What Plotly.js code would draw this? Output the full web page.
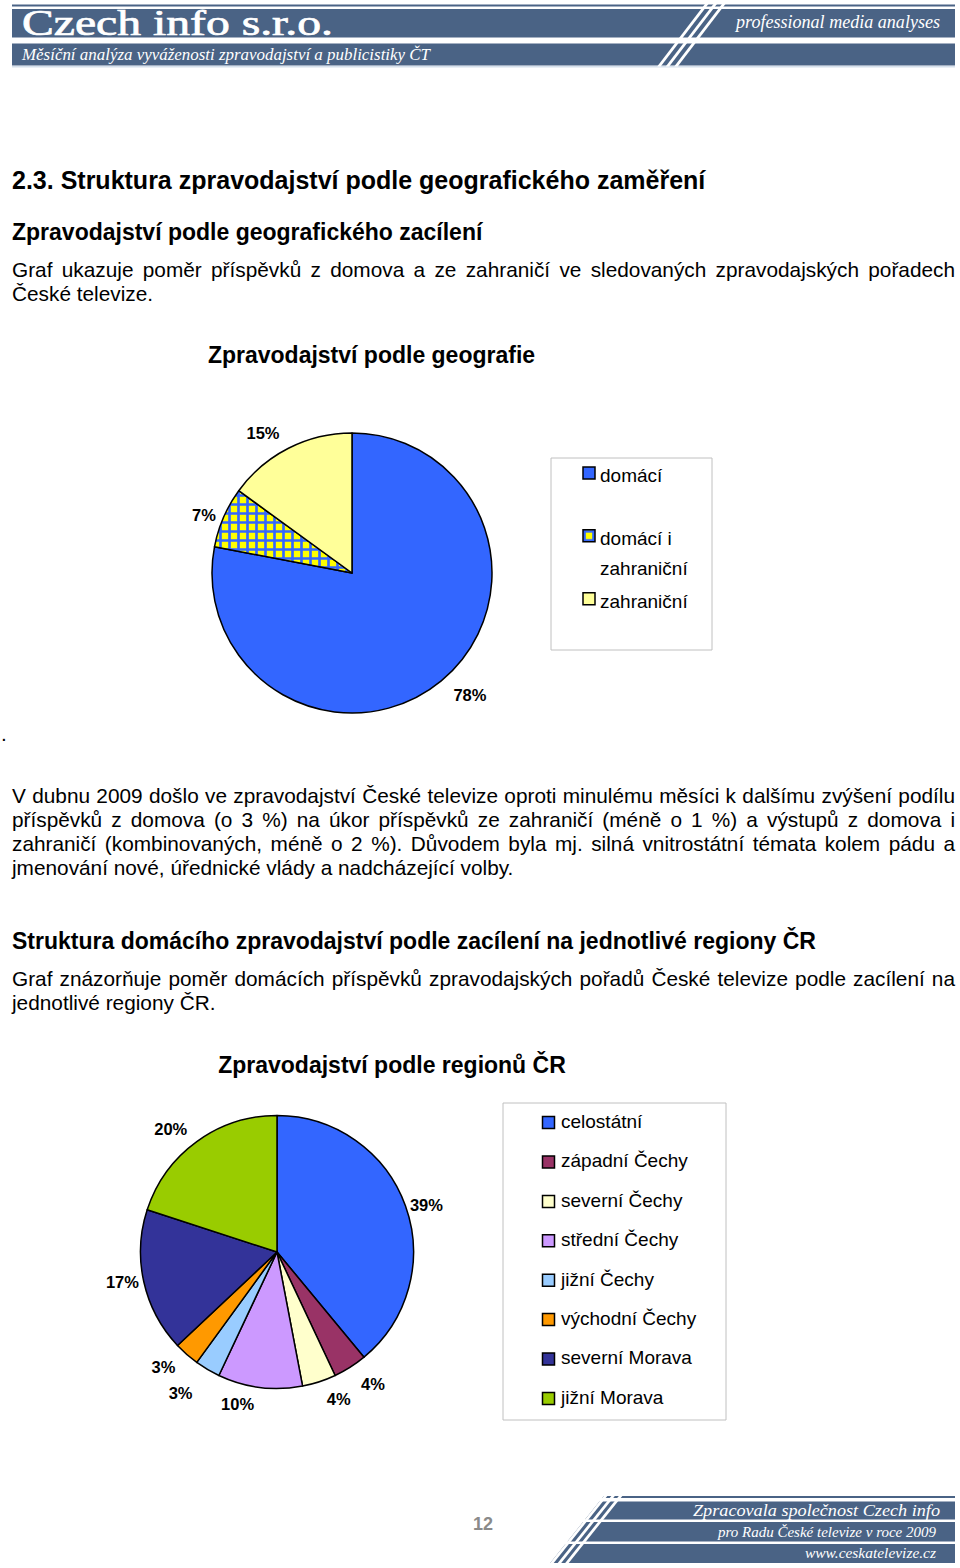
<!DOCTYPE html>
<html>
<head>
<meta charset="utf-8">
<script src="https://cdn.plot.ly/plotly-3.0.1.min.js"></script>
<style>
  html, body { margin:0; padding:0; background:#fff; }
  #page { position:relative; width:960px; height:1568px; overflow:hidden; background:#fff;
          font-family:"Liberation Sans", Arial, Helvetica, sans-serif; color:#000; }
  .abs { position:absolute; }
  .h1 { left:12px; font-size:25px; line-height:30px; font-weight:bold; white-space:nowrap; }
  .h2 { left:12px; font-size:23px; line-height:28px; font-weight:bold; white-space:nowrap; }
  .p  { left:12px; width:943px; font-size:20.8px; line-height:24px; white-space:nowrap; }
  .j  { text-align:justify; text-align-last:justify; white-space:normal; }
  .chart { position:absolute; left:0; width:960px; }
  #chart1 .legend .legendpoints { transform: translateX(9px); }
  #chart2 .legend .legendpoints { transform: translateX(7.5px); }
</style>
</head>
<body>
<div id="page">
  <svg class="abs" style="left:0;top:0" width="960" height="72">
    <rect x="12" y="4.5" width="943" height="2" fill="#4a6385"/>
    <rect x="12" y="9" width="943" height="28.5" fill="#4a6385"/>
    <rect x="12" y="43.5" width="943" height="22" fill="#4a6385"/>
    <rect x="12" y="66" width="943" height="1.5" fill="#d5e0ec"/>
    <g fill="#fff">
      <polygon points="706.5,2 710,2 660.7,66.5 657.2,66.5"/>
      <polygon points="715,2 718.5,2 669.2,66.5 665.7,66.5"/>
      <polygon points="723.5,2 727,2 677.7,66.5 674.2,66.5"/>
    </g>
    <text x="22" y="35" font-family="Liberation Serif, Times New Roman, serif" font-size="35" fill="#fff" stroke="#fff" stroke-width="0.7" textLength="311" lengthAdjust="spacingAndGlyphs">Czech info s.r.o.</text>
    <text x="736" y="28" font-family="Liberation Serif, Times New Roman, serif" font-style="italic" font-size="18.5" fill="#fff" textLength="204" lengthAdjust="spacingAndGlyphs">professional media analyses</text>
    <text x="22" y="60" font-family="Liberation Serif, Times New Roman, serif" font-style="italic" font-size="16" fill="#fff" textLength="408" lengthAdjust="spacingAndGlyphs">Měsíční analýza vyváženosti zpravodajství a publicistiky ČT</text>
  </svg>

  <div class="abs h1" style="top:165px">2.3. Struktura zpravodajství podle geografického zaměření</div>
  <div class="abs h2" style="top:218px">Zpravodajství podle geografického zacílení</div>
  <div class="abs p j" style="top:257.5px">Graf ukazuje poměr příspěvků z domova a ze zahraničí ve sledovaných zpravodajských pořadech</div>
  <div class="abs p" style="top:281.5px">České televize.</div>

  <div id="chart1" class="chart" style="top:320px;height:420px"></div>

  <div class="abs p" style="top:722px;left:1px">.</div>
  <div class="abs p j" style="top:783.5px">V dubnu 2009 došlo ve zpravodajství České televize oproti minulému měsíci k dalšímu zvýšení podílu</div>
  <div class="abs p j" style="top:807.5px">příspěvků z&nbsp;domova (o 3 %) na úkor příspěvků ze zahraničí (méně o 1 %) a výstupů z&nbsp;domova i</div>
  <div class="abs p j" style="top:831.5px">zahraničí (kombinovaných, méně o 2 %). Důvodem byla mj. silná vnitrostátní témata kolem pádu a</div>
  <div class="abs p" style="top:855.5px">jmenování nové, úřednické vlády a nadcházející volby.</div>

  <div class="abs h2" style="top:927px">Struktura domácího zpravodajství podle zacílení na jednotlivé regiony ČR</div>
  <div class="abs p j" style="top:966.5px">Graf znázorňuje poměr domácích příspěvků zpravodajských pořadů České televize podle zacílení na</div>
  <div class="abs p" style="top:990.5px">jednotlivé regiony ČR.</div>

  <div id="chart2" class="chart" style="top:1030px;height:410px"></div>

  <div class="abs" style="left:473px;top:1513px;font-size:18px;line-height:22px;font-weight:bold;color:#8a8a8a">12</div>

  <svg class="abs" style="left:0;top:1488px" width="960" height="80" id="footer"></svg>
</div>

<script>
// ---------- data ----------
const geoCategories = ['domácí', 'domácí i zahraniční', 'zahraniční'];
const geoLegendText = ['domácí', 'domácí i<br>zahraniční', 'zahraniční'];
const geoValues = [78, 7, 15];
const geoColors = ['#3366ff', '#ffff00', '#ffff99'];
const geoPatternShapes = ['', '+', ''];

const regionCategories = ['celostátní', 'západní Čechy', 'severní Čechy', 'střední Čechy',
                          'jižní Čechy', 'východní Čechy', 'severní Morava', 'jižní Morava'];
const regionValues = [39, 4, 4, 10, 3, 3, 17, 20];
const regionColors = ['#3366ff', '#993366', '#ffffcc', '#cc99ff', '#99ccff', '#ff9900', '#333399', '#99cc00'];

const chart1Title = 'Zpravodajství podle geografie';
const chart2Title = 'Zpravodajství podle regionů ČR';

// ---------- footer decoration ----------
(function () {
  const svg = document.getElementById('footer');
  const NS = 'http://www.w3.org/2000/svg';
  const oy = 1488;
  const E = y => 622 - 0.8 * (y - 1502);   // slanted left edge of the bands
  function poly(pts, fill) {
    const p = document.createElementNS(NS, 'polygon');
    p.setAttribute('points', pts.map(q => q[0] + ',' + (q[1] - oy)).join(' '));
    p.setAttribute('fill', fill);
    svg.appendChild(p);
  }
  const col = '#4a6385';
  const bands = [[1501.5, 1519.5], [1522, 1541.5], [1544, 1563]];
  bands.forEach(b => {
    poly([[E(b[0]) - 23, b[0]], [955, b[0]], [955, b[1]], [E(b[1]) - 23, b[1]]], col);
  });
  poly([[E(1496) - 23, 1496], [955, 1496], [955, 1498], [E(1498) - 23, 1498]], col);
  [[-4.5, -8], [-12, -15.5], [-19.5, -23]].forEach(g => {
    poly([[E(1490) + g[1], 1490], [E(1490) + g[0], 1490],
          [E(1566) + g[0], 1566], [E(1566) + g[1], 1566]], '#fff');
  });
  function txt(s, x, y, size, len) {
    const t = document.createElementNS(NS, 'text');
    t.setAttribute('x', x); t.setAttribute('y', y - oy);
    t.setAttribute('font-family', 'Liberation Serif, Times New Roman, serif');
    t.setAttribute('font-style', 'italic');
    t.setAttribute('font-size', size);
    t.setAttribute('fill', '#fff');
    t.setAttribute('textLength', len);
    t.setAttribute('lengthAdjust', 'spacingAndGlyphs');
    t.textContent = s;
    svg.appendChild(t);
  }
  txt('Zpracovala společnost Czech info', 693, 1515.5, 16, 247);
  txt('pro Radu České televize v roce 2009', 718, 1536.5, 15.5, 218);
  txt('www.ceskatelevize.cz', 805, 1558, 14.5, 131);
})();

// ---------- charts ----------
const FONT = '"Liberation Sans", Arial, Helvetica, sans-serif';
const span = s => '<span style="font-size:19px">' + s + '</span>';
const LABEL_FONT = { family: FONT, size: 16.5, color: '#000', weight: 'bold' };

// The visible pie, plus one transparent twin per slice that only carries that
// slice's outside percentage label, pushed a little away from the rim.
function pieTraces(opts) {
  const { W, H, cx, cy, r, labels, names, values, marker, labelOffsetPx } = opts;
  const dom = rr => ({ x: [(cx - rr) / W, (cx + rr) / W], y: [(H - cy - rr) / H, (H - cy + rr) / H] });
  const main = {
    type: 'pie', labels: labels, values: values, sort: false,
    direction: 'clockwise', rotation: 0, marker: marker,
    textinfo: 'none', domain: dom(r), hoverinfo: 'none'
  };
  const textTraces = values.map((_, k) => {
    const pull = labelOffsetPx[k] / r;
    return {
      type: 'pie', labels: names.map(n => n + ' '), values: values, sort: false,
      direction: 'clockwise', rotation: 0, showlegend: false, pull: pull,
      marker: { colors: values.map(() => 'rgba(0,0,0,0)'), line: { width: 0 } },
      texttemplate: '%{value}%',
      textposition: values.map((__, i) => (i === k ? 'outside' : 'none')),
      outsidetextfont: LABEL_FONT,
      domain: dom(r * (1 + pull)), hoverinfo: 'none'
    };
  });
  return [main].concat(textTraces);
}

// chart 1
(function () {
  const W = 960, H = 420, top = 320;
  const legendLabels = geoLegendText.map(s => s.indexOf('<br>') >= 0
      ? s.split('<br>').map(span).join('<br>')
      : span(s) + '<br>\u00a0');
  const traces = pieTraces({
    W: W, H: H, cx: 352, cy: 573 - top, r: 140,
    labels: legendLabels, names: geoCategories, values: geoValues,
    marker: {
      colors: geoColors,
      line: { color: '#000', width: 1.5 },
      pattern: {
        shape: geoPatternShapes,
        fgcolor: geoColors.map((c, i) => geoPatternShapes[i] ? '#3366ff' : c),
        bgcolor: geoColors,
        size: 9, solidity: 0.5, fillmode: 'replace'
      }
    },
    labelOffsetPx: [12, 3, 9]
  });
  const layout = {
    width: W, height: H,
    margin: { l: 0, r: 0, t: 0, b: 0 },
    paper_bgcolor: 'rgba(0,0,0,0)',
    title: { text: chart1Title, x: 371.5 / W, xanchor: 'center', y: 1 - 35 / H, yanchor: 'middle',
             font: { family: FONT, size: 23, color: '#000', weight: 'bold' } },
    showlegend: true,
    legend: { x: 560 / W, xanchor: 'left', y: 1 - 131.6 / H, yanchor: 'top',
              font: { family: FONT, size: 23, color: '#000' }, valign: 'top',
              bgcolor: 'rgba(0,0,0,0)', borderwidth: 0, traceorder: 'normal' },
    shapes: [{ type: 'rect', xref: 'paper', yref: 'paper', layer: 'below',
               x0: 551 / W, x1: 712 / W, y0: 1 - 330 / H, y1: 1 - 138 / H,
               line: { color: '#c0c0c0', width: 1 }, fillcolor: 'rgba(0,0,0,0)' }]
  };
  Plotly.newPlot('chart1', traces, layout, { staticPlot: true, displayModeBar: false });
})();

// chart 2
(function () {
  const W = 960, H = 410, top = 1030;
  const traces = pieTraces({
    W: W, H: H, cx: 277, cy: 1252 - top, r: 136.5,
    labels: regionCategories.map(s => span(s) + '<br>\u00a0'),
    names: regionCategories, values: regionValues,
    marker: { colors: regionColors, line: { color: '#000', width: 1.5 } },
    labelOffsetPx: [0, 12, 10, 8, 20, 10, 0, 8]
  });
  const layout = {
    width: W, height: H,
    margin: { l: 0, r: 0, t: 0, b: 0 },
    paper_bgcolor: 'rgba(0,0,0,0)',
    title: { text: chart2Title, x: 392 / W, xanchor: 'center', y: 1 - 35 / H, yanchor: 'middle',
             font: { family: FONT, size: 23, color: '#000', weight: 'bold' } },
    showlegend: true,
    legend: { x: 521 / W, xanchor: 'left', y: 1 - 77 / H, yanchor: 'top',
              font: { family: FONT, size: 14, color: '#000' }, valign: 'top',
              bgcolor: 'rgba(0,0,0,0)', borderwidth: 0, traceorder: 'normal' },
    shapes: [{ type: 'rect', xref: 'paper', yref: 'paper', layer: 'below',
               x0: 503 / W, x1: 726 / W, y0: 1 - 390 / H, y1: 1 - 73 / H,
               line: { color: '#c0c0c0', width: 1 }, fillcolor: 'rgba(0,0,0,0)' }]
  };
  Plotly.newPlot('chart2', traces, layout, { staticPlot: true, displayModeBar: false });
})();
</script>
</body>
</html>
